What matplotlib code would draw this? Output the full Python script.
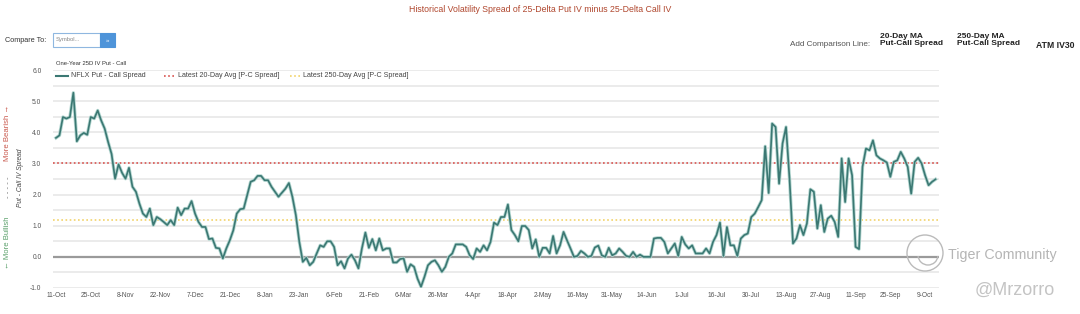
import matplotlib
matplotlib.use("Agg")
import matplotlib.pyplot as plt
import matplotlib.patches as mpatches
import numpy as np

plt.rcParams['font.family'] = ['Liberation Sans', 'DejaVu Sans']

# ---------------- data ----------------
spread = [
    3.82, 3.90, 4.49, 4.44, 4.49, 5.27, 3.71, 3.90, 3.98, 3.92,
    4.49, 4.44, 4.70, 4.38, 4.12, 3.69, 3.30, 2.51, 2.97, 2.70,
    2.51, 2.86, 2.25, 2.09, 1.71, 1.39, 1.28, 1.55, 1.02, 1.28,
    1.21, 1.12, 1.02, 1.18, 1.02, 1.58, 1.34, 1.55, 1.55, 1.79,
    1.39, 1.12, 0.96, 0.96, 0.57, 0.59, 0.29, 0.27, -0.05, 0.27,
    0.53, 0.85, 1.39, 1.53, 1.55, 1.98, 2.41, 2.46, 2.60, 2.60,
    2.46, 2.46, 2.25, 2.09, 1.93, 2.06, 2.19, 2.37, 1.93, 1.34,
    0.48, -0.16, -0.03, -0.27, -0.16, 0.11, 0.37, 0.32, 0.50, 0.50,
    0.32, -0.27, -0.14, -0.37, -0.05, 0.07, -0.11, -0.37, 0.27, 0.78,
    0.29, 0.57, 0.21, 0.59, 0.21, 0.27, 0.27, -0.18, -0.18, -0.07,
    -0.05, -0.48, -0.24, -0.32, -0.70, -0.96, -0.64, -0.27, -0.16, -0.11,
    -0.27, -0.48, -0.32, 0.00, 0.11, 0.40, 0.40, 0.40, 0.32, 0.05,
    -0.07, 0.27, 0.16, 0.37, 0.21, 0.48, 1.10, 1.02, 1.28, 1.28,
    1.68, 0.86, 0.70, 0.50, 0.99, 0.99, 0.86, 0.27, 0.56, 0.00,
    0.29, 0.29, 0.11, 0.67, 0.11, 0.37, 0.80, 0.53, 0.27, 0.00,
    0.03, 0.19, 0.11, 0.00, 0.03, 0.30, 0.36, 0.05, 0.00, 0.29,
    0.05, 0.11, 0.27, 0.16, 0.03, 0.00, 0.16, 0.00, 0.07, 0.00,
    0.00, 0.00, 0.59, 0.61, 0.61, 0.48, 0.11, 0.27, 0.43, 0.03,
    0.64, 0.40, 0.27, 0.37, 0.11, 0.11, 0.11, 0.27, 0.11, 0.48,
    0.70, 1.10, 0.03, 0.96, 0.37, 0.37, 0.03, 0.59, 0.70, 0.75,
    1.28, 1.39, 1.60, 1.82, 3.55, 2.05, 4.28, 4.17, 2.35, 3.64,
    4.17, 2.51, 0.43, 0.59, 1.02, 0.70, 1.07, 2.17, 2.09, 0.91,
    1.66, 0.80, 1.23, 1.32, 1.12, 0.64, 3.16, 1.76, 3.16, 2.62,
    0.32, 0.25, 2.89, 3.48, 3.42, 3.74, 3.26, 3.16, 3.10, 3.03,
    2.57, 3.05, 3.10, 3.37, 3.16, 2.89, 2.03, 3.05, 3.18, 3.00,
    2.62, 2.30, 2.41, 2.49,
]
latest_20d_avg = 3.0
latest_250d_avg = 1.18

tick_labels = ["11-Oct", "25-Oct", "8-Nov", "22-Nov", "7-Dec", "21-Dec",
               "8-Jan", "23-Jan", "6-Feb", "21-Feb", "6-Mar", "26-Mar",
               "4-Apr", "18-Apr", "2-May", "16-May", "31-May", "14-Jun",
               "1-Jul", "16-Jul", "30-Jul", "13-Aug", "27-Aug", "11-Sep",
               "25-Sep", "9-Oct"]
tick_step = 10

# ---------------- figure ----------------
W, H = 1080, 314
fig = plt.figure(figsize=(W / 100, H / 100), dpi=100)
fig.patch.set_facecolor('white')


def fx(x):
    return x / W


def fy(y):
    return 1 - y / H


ax_left, ax_right, ax_top, ax_bot = 52.5, 939, 70, 288
ax = fig.add_axes([fx(ax_left), fy(ax_bot), fx(ax_right - ax_left), (ax_bot - ax_top) / H])

x = np.arange(len(spread))
ax.set_xlim(-1, len(spread))
ax.set_ylim(-1.0, 6.0)

for v in np.arange(-1.0, 6.01, 0.5):
    ax.axhline(v, color='#ebebeb', lw=1.4, zorder=0)

ax.axhline(0, color='#9a9a9a', lw=1.6, zorder=1)
ax.axhline(latest_20d_avg, color='#d9534f', lw=1.2, ls=(0, (1, 1.5)), zorder=1)
ax.axhline(latest_250d_avg, color='#f2d36b', lw=1.2, ls=(0, (1, 1.5)), zorder=1)

ax.plot(x, spread, color='#b3d6d0', lw=2.4, zorder=2, solid_joinstyle='round')
ax.plot(x, spread, color='#3b7873', lw=1.2, zorder=3, solid_joinstyle='round')

ax.set_yticks(np.arange(-1, 7, 1))
ax.set_yticklabels([f"{v:.1f}" for v in np.arange(-1, 7, 1)])
ax.set_xticks(np.arange(0, len(tick_labels) * tick_step, tick_step))
ax.set_xticklabels(tick_labels)
ax.tick_params(axis='x', length=0, labelsize=4.8, colors='#555555', pad=3)
ax.tick_params(axis='y', length=0, labelsize=4.8, colors='#555555', pad=8)
for s in ax.spines.values():
    s.set_visible(False)

# ---------------- header texts ----------------
fig.text(fx(540), fy(10), "Historical Volatility Spread of 25-Delta Put IV minus 25-Delta Call IV",
         ha='center', va='center', fontsize=6.3, color='#b0472e')

fig.text(fx(5), fy(40), "Compare To:", ha='left', va='center', fontsize=5.2, color='#333333')
fig.add_artist(mpatches.Rectangle((fx(53), fy(47)), fx(47), 14 / H, transform=fig.transFigure,
                                  facecolor='white', edgecolor='#8fb7e0', lw=0.8))
fig.add_artist(mpatches.Rectangle((fx(100), fy(47)), fx(15), 14 / H, transform=fig.transFigure,
                                  facecolor='#4e94d9', edgecolor='#4e94d9', lw=0.8))
fig.text(fx(56), fy(40), "Symbol...", ha='left', va='center', fontsize=4.2, color='#888888')
fig.text(fx(107.5), fy(40), "»", ha='center', va='center', fontsize=4.5, color='white')

fig.text(fx(790), fy(45), "Add Comparison Line:", ha='left', va='center', fontsize=5.9, color='#555555')
fig.text(fx(880), fy(40), "20-Day MA\nPut-Call Spread", ha='left', va='center', fontsize=6.0,
         fontweight='bold', color='#222222', linespacing=1.1)
fig.text(fx(957), fy(40), "250-Day MA\nPut-Call Spread", ha='left', va='center', fontsize=6.0,
         fontweight='bold', color='#222222', linespacing=1.1)
fig.text(fx(1036), fy(45), "ATM IV30", ha='left', va='center', fontsize=6.2,
         fontweight='bold', color='#222222')

fig.text(fx(56), fy(63), "One-Year 25D IV Put - Call", ha='left', va='center', fontsize=4.2, color='#333333')

# legend row
ly = 76
fig.add_artist(plt.Line2D([fx(56), fx(68)], [fy(ly), fy(ly)], transform=fig.transFigure,
                          color='#3b7873', lw=1.5))
fig.text(fx(71), fy(ly), "NFLX Put - Call Spread", ha='left', va='center', fontsize=5.1, color='#444444')
fig.add_artist(plt.Line2D([fx(164), fx(174)], [fy(ly), fy(ly)], transform=fig.transFigure,
                          color='#d9534f', lw=1.2, ls=(0, (1, 1.5))))
fig.text(fx(178), fy(ly), "Latest 20-Day Avg [P-C Spread]", ha='left', va='center', fontsize=5.1, color='#444444')
fig.add_artist(plt.Line2D([fx(290), fx(300)], [fy(ly), fy(ly)], transform=fig.transFigure,
                          color='#f2d36b', lw=1.2, ls=(0, (1, 1.5))))
fig.text(fx(303), fy(ly), "Latest 250-Day Avg [P-C Spread]", ha='left', va='center', fontsize=5.1, color='#444444')

# rotated side labels
fig.text(fx(8), fy(243), "\u2190 More Bullish", rotation=90, ha='center', va='center', fontsize=5.6, color='#5aa06a')
fig.text(fx(8), fy(187), "- - - - -", rotation=90, ha='center', va='center', fontsize=5.6, color='#777777')
fig.text(fx(8), fy(133), "More Bearish \u2192", rotation=90, ha='center', va='center', fontsize=5.6, color='#c9584c')
fig.text(fx(20), fy(178), "Put - Call IV Spread", rotation=90, ha='center', va='center', fontsize=4.8,
         style='italic', color='#444444')

# watermark
fig.add_artist(mpatches.Ellipse((fx(925), fy(253)), 36 / W, 36 / H, transform=fig.transFigure,
                                facecolor='none', edgecolor='#bbbbbb', lw=1.0, zorder=10))
fig.add_artist(mpatches.Arc((fx(928), fy(255)), 20 / W, 20 / H, theta1=200, theta2=340,
                            transform=fig.transFigure, edgecolor='#bbbbbb', lw=1.0, zorder=10))
fig.text(fx(948), fy(255), "Tiger Community", ha='left', va='center', fontsize=10.3, color='#b5b5b5')
fig.text(fx(975), fy(290), "@Mrzorro", ha='left', va='center', fontsize=13, color='#c4c4c4')

fig.savefig("out.png", dpi=100, facecolor='white')
